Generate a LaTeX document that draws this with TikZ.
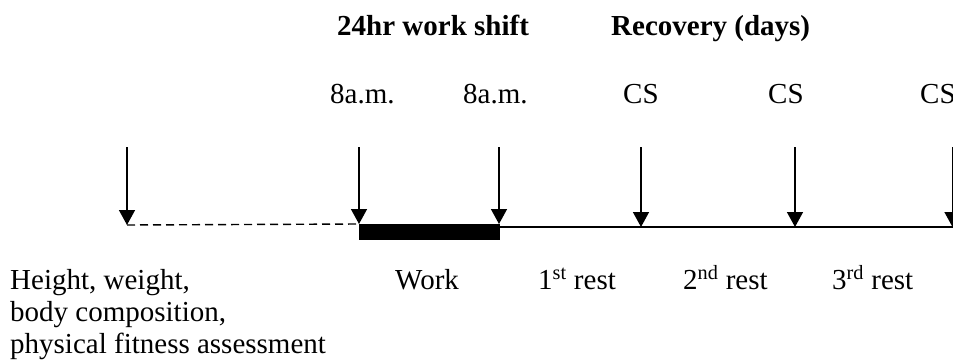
\documentclass[tikz,border=0pt]{standalone}
\usepackage{fontspec}
\setmainfont{Liberation Serif}
\usetikzlibrary{arrows.meta}
\begin{document}
\begin{tikzpicture}[x=1pt,y=-1pt,
  lbl/.style={inner sep=0pt,anchor=base west,font=\fontsize{29}{32}\selectfont},
  ttl/.style={lbl,font=\fontsize{29}{32}\selectfont\bfseries},
  marker/.style={-{Triangle[width=16pt,length=15pt]},line width=1.5pt}]
\useasboundingbox (0,0) rectangle (953,362);
% titles
\node[ttl] (t1) at (337,35) {24hr work shift};
\node[ttl] (t2) at (611,35) {Recovery (days)};
% time labels
\node[lbl] (l1) at (330,103) {8a.m.};
\node[lbl] (l2) at (463,103) {8a.m.};
\node[lbl] (l3) at (623,103) {CS};
\node[lbl] (l4) at (768,103) {CS};
\node[lbl] (l5) at (920,103) {CS};
% arrow tops and tips
\coordinate (a0) at (127,147); \coordinate (b0) at (127,225);
\coordinate (a1) at (359,147); \coordinate (b1) at (359,224);
\coordinate (a2) at (499,147); \coordinate (b2) at (499,224);
\coordinate (a3) at (641,147); \coordinate (b3) at (641,227);
\coordinate (a4) at (795,147); \coordinate (b4) at (795,227);
\coordinate (a5) at (952.5,147); \coordinate (b5) at (952.5,227);
% timeline
\draw[dash pattern=on 8pt off 5pt,line width=1.4pt] (b0) -- (b1);
\node[fill=black,draw=black,inner sep=0pt,minimum width=140pt,minimum height=15pt,anchor=north west] (bar) at (359,224) {};
\coordinate (e) at (953,227);
\draw[line width=1.8pt] (bar.north east |- e) -- (e);
\foreach \i in {0,...,5} \draw[marker] (a\i) -- (b\i);
% bottom labels
\node[lbl] (w) at (395,289) {Work};
\node[lbl] (r1) at (538,289) {1\textsuperscript{st} rest};
\node[lbl] (r2) at (683,289) {2\textsuperscript{nd} rest};
\node[lbl] (r3) at (832,289) {3\textsuperscript{rd} rest};
\node[lbl] (d1) at (10,289) {Height, weight,};
\node[lbl] (d2) at (10,321) {body composition,};
\node[lbl] (d3) at (10,353) {physical fitness assessment};
\end{tikzpicture}
\end{document}
